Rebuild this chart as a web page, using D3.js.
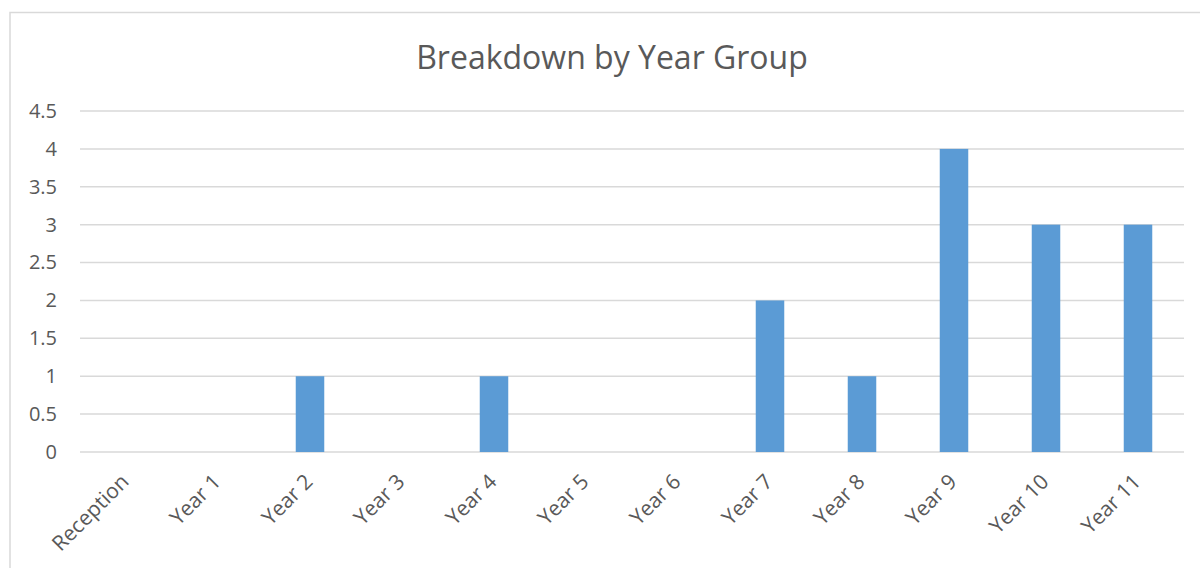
<!DOCTYPE html>
<html>
<head>
<meta charset="utf-8">
<script src="https://cdn.jsdelivr.net/npm/d3@7"></script>
<style>
  body { margin: 0; background: #fff; }
  text { font-family: "Open Sans", "Noto Sans", sans-serif; fill: #595959; }
</style>
</head>
<body>
<div id="chart"></div>
<script>
const categories = ["Reception", "Year 1", "Year 2", "Year 3", "Year 4", "Year 5",
  "Year 6", "Year 7", "Year 8", "Year 9", "Year 10", "Year 11"];
const values = [0, 0, 1, 0, 1, 0, 0, 2, 1, 4, 3, 3];
const yTicks = [0, 0.5, 1, 1.5, 2, 2.5, 3, 3.5, 4, 4.5];

const width = 1200, height = 568;
const margin = { top: 111, right: 16, bottom: 116, left: 80 };

const svg = d3.select("#chart")
  .append("svg")
  .attr("width", width)
  .attr("height", height);

// chart area border (runs off the right and bottom edges)
svg.append("rect")
  .attr("x", 10)
  .attr("y", 12.5)
  .attr("width", 1300)
  .attr("height", 700)
  .attr("fill", "none")
  .attr("stroke", "#d9d9d9")
  .attr("stroke-width", 1.5);

svg.append("text")
  .attr("x", 612)
  .attr("y", 69)
  .attr("text-anchor", "middle")
  .style("font-size", "32px")
  .text("Breakdown by Year Group");

const x = d3.scaleBand()
  .domain(categories)
  .range([margin.left, width - margin.right])
  .paddingInner(0.69)
  .paddingOuter(0.345);

const y = d3.scaleLinear()
  .domain([0, 4.5])
  .range([height - margin.bottom, margin.top]);

// gridlines
svg.append("g")
  .selectAll("line")
  .data(yTicks)
  .enter()
  .append("line")
  .attr("x1", margin.left)
  .attr("x2", width - margin.right)
  .attr("y1", d => y(d))
  .attr("y2", d => y(d))
  .attr("stroke", "#d9d9d9")
  .attr("stroke-width", 1.5);

// y axis labels
const yAxis = svg.append("g")
  .attr("transform", `translate(${margin.left - 23},0)`)
  .call(d3.axisLeft(y).tickValues(yTicks).tickSize(0).tickFormat(d3.format("")));
yAxis.select(".domain").remove();
yAxis.selectAll("text")
  .attr("x", 0)
  .style("font-size", "20px")
  .style("font-family", "\"Open Sans\", sans-serif")
  .attr("fill", "#595959");

// bars
svg.append("g")
  .selectAll("rect")
  .data(values)
  .enter()
  .append("rect")
  .attr("x", (d, i) => x(categories[i]))
  .attr("width", x.bandwidth())
  .attr("y", d => y(d))
  .attr("height", d => y(0) - y(d))
  .attr("fill", "#5b9bd5");

// x labels
svg.append("g")
  .selectAll("text")
  .data(categories)
  .enter()
  .append("text")
  .attr("text-anchor", "end")
  .attr("transform", d => {
    const cx = x(d) + x.bandwidth() / 2 + 4;
    return `translate(${cx},${y(0) + 31}) rotate(-45)`;
  })
  .style("font-size", "21px")
  .text(d => d);
</script>
</body>
</html>
